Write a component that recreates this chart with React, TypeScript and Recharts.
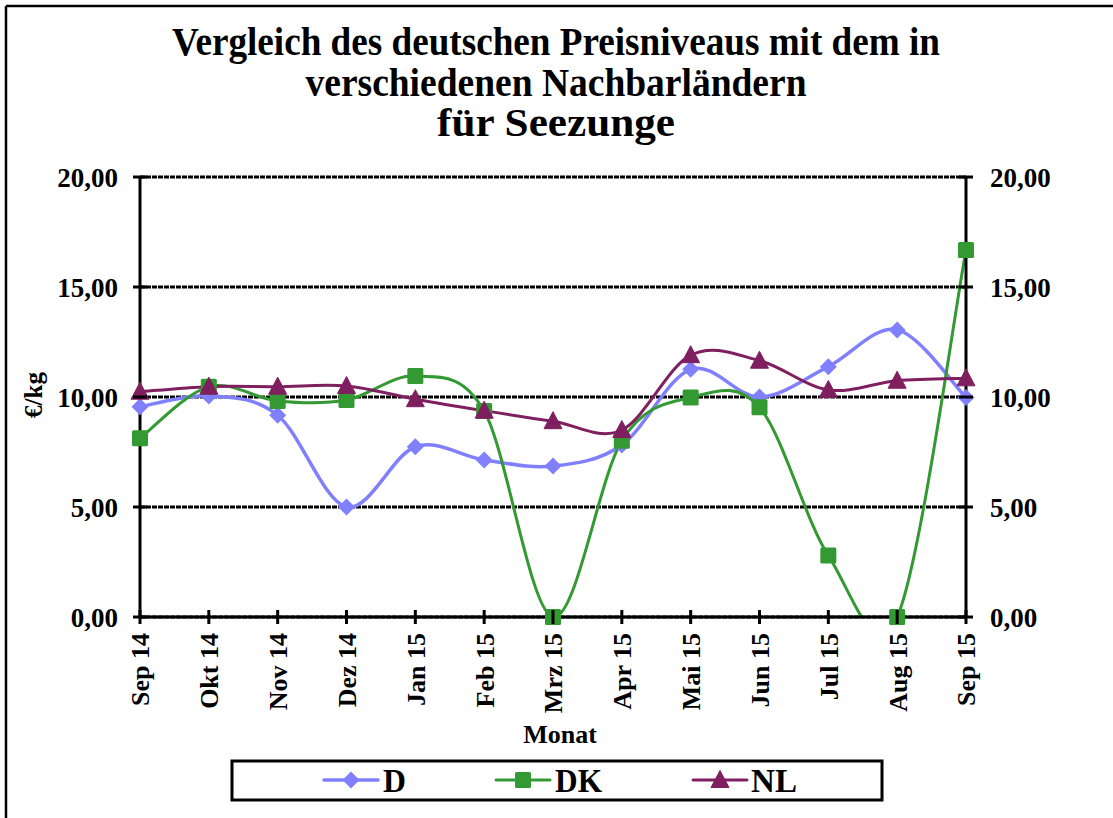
import React from 'react';
import { LineChart, Line, XAxis, YAxis, CartesianGrid } from 'recharts';

const months = ['Sep 14', 'Okt 14', 'Nov 14', 'Dez 14', 'Jan 15', 'Feb 15', 'Mrz 15', 'Apr 15', 'Mai 15', 'Jun 15', 'Jul 15', 'Aug 15', 'Sep 15'];
const seriesD = [9.56, 10.05, 9.17, 5.0, 7.74, 7.14, 6.86, 7.82, 11.26, 10.0, 11.38, 13.05, 9.98];
const seriesDK = [8.12, 10.47, 9.82, 9.86, 10.95, 9.36, 0, 8.01, 9.98, 9.53, 2.79, 0, 16.68];
const seriesNL = [10.24, 10.47, 10.47, 10.5, 9.9, 9.38, 8.9, 8.5, 11.9, 11.65, 10.32, 10.74, 10.85];
const yTicks = [0, 5, 10, 15, 20];
const titleLines = ['Vergleich des deutschen Preisniveaus mit dem in', 'verschiedenen Nachbarländern', 'für Seezunge'];

const series = [
  { key: 'D', name: 'D', color: '#8080FF', width: 3.5, shape: 'diamond' },
  { key: 'DK', name: 'DK', color: '#339933', width: 3, shape: 'square' },
  { key: 'NL', name: 'NL', color: '#7F1F5F', width: 3, shape: 'triangle' },
];

const data = months.map((m, i) => ({ month: m, D: seriesD[i], DK: seriesDK[i], NL: seriesNL[i] }));

// layout constants
const W = 1113;
const H = 818;
const LEFT_AXIS_W = 140;
const RIGHT_AXIS_W = 147;
const TOP = 177;
const X_AXIS_H = 201;
const PLOT_LEFT = LEFT_AXIS_W;
const PLOT_RIGHT = W - RIGHT_AXIS_W;
const PLOT_BOTTOM = H - X_AXIS_H;
const FONT = '"Liberation Serif", "Times New Roman", serif';
const TICK_HALF = 7;

// Excel-like smoothing (Catmull-Rom as cubic Bezier)
function smoothCurve(context: any) {
  let pts: number[][] = [];
  return {
    areaStart() {},
    areaEnd() {},
    lineStart() {
      pts = [];
    },
    lineEnd() {
      const n = pts.length;
      if (!n) return;
      context.moveTo(pts[0][0], pts[0][1]);
      for (let i = 0; i < n - 1; i++) {
        const p0 = pts[i - 1] || pts[i];
        const p1 = pts[i];
        const p2 = pts[i + 1];
        const p3 = pts[i + 2] || p2;
        context.bezierCurveTo(
          p1[0] + (p2[0] - p0[0]) / 6,
          p1[1] + (p2[1] - p0[1]) / 6,
          p2[0] - (p3[0] - p1[0]) / 6,
          p2[1] - (p3[1] - p1[1]) / 6,
          p2[0],
          p2[1]
        );
      }
    },
    point(x: number, y: number) {
      pts.push([+x, +y]);
    },
  };
}

function Marker({ shape, color, cx, cy }: { shape: string; color: string; cx: number; cy: number }) {
  if (cx == null || cy == null || isNaN(cx) || isNaN(cy)) return null;
  if (shape === 'diamond') {
    const r = 8.5;
    return <path d={`M${cx},${cy - r}L${cx + r},${cy}L${cx},${cy + r}L${cx - r},${cy}Z`} fill={color} />;
  }
  if (shape === 'square') {
    const s = 8;
    return <rect x={cx - s} y={cy - s} width={2 * s} height={2 * s} rx={1.5} fill={color} />;
  }
  const hw = 9;
  return <path d={`M${cx},${cy - 9.5}L${cx + hw},${cy + 7.5}L${cx - hw},${cy + 7.5}Z`} fill={color} strokeLinejoin="round" stroke={color} strokeWidth={1} />;
}

const fmt = (v: number) => v.toFixed(2).replace('.', ',');

const LeftTick = (props: any) => {
  const y = props.payload.coordinate;
  return (
    <g>
      <line x1={PLOT_LEFT - TICK_HALF} x2={PLOT_LEFT + TICK_HALF} y1={y} y2={y} stroke="#000" strokeWidth={3} />
      <text x={PLOT_LEFT - 22} y={y} dy="0.36em" textAnchor="end" fontFamily={FONT} fontWeight="bold" fontSize={27} fill="#000">
        {fmt(props.payload.value)}
      </text>
    </g>
  );
};

const RightTick = (props: any) => {
  const y = props.payload.coordinate;
  return (
    <g>
      <line x1={PLOT_RIGHT - TICK_HALF} x2={PLOT_RIGHT + TICK_HALF} y1={y} y2={y} stroke="#000" strokeWidth={3} />
      <text x={PLOT_RIGHT + 24} y={y} dy="0.36em" textAnchor="start" fontFamily={FONT} fontWeight="bold" fontSize={27} fill="#000">
        {fmt(props.payload.value)}
      </text>
    </g>
  );
};

const BottomTick = (props: any) => {
  const x = props.payload.coordinate;
  const ty = PLOT_BOTTOM + 16;
  return (
    <g>
      <line x1={x} x2={x} y1={PLOT_BOTTOM - TICK_HALF} y2={PLOT_BOTTOM + TICK_HALF} stroke="#000" strokeWidth={3} />
      <text
        x={x}
        y={ty}
        dy="0.36em"
        textAnchor="end"
        transform={`rotate(-90, ${x}, ${ty})`}
        fontFamily={FONT}
        fontWeight="bold"
        fontSize={26}
        fill="#000"
      >
        {props.payload.value}
      </text>
    </g>
  );
};

const legendItems = [
  { x1: 324, label: 383, lw: 23 },
  { x1: 496, label: 555, lw: 47 },
  { x1: 693, label: 751, lw: 46 },
];

export default function App() {
  return (
    <div style={{ position: 'absolute', left: 0, top: 0, width: W, height: H, background: '#fff', overflow: 'hidden' }}>
      <div style={{ position: 'absolute', left: 0, top: 0 }}>
        <LineChart width={W} height={H} data={data} margin={{ top: TOP, right: 0, bottom: 0, left: 0 }}>
          <CartesianGrid yAxisId="left" vertical={false} stroke="#000" strokeWidth={3.2} strokeDasharray="5 1" horizontalValues={yTicks} />
          <XAxis
            dataKey="month"
            height={X_AXIS_H}
            interval={0}
            axisLine={{ stroke: '#000', strokeWidth: 3 }}
            tickLine={false}
            tick={<BottomTick />}
          />
          <YAxis
            yAxisId="left"
            orientation="left"
            width={LEFT_AXIS_W}
            domain={[0, 20]}
            ticks={yTicks}
            allowDataOverflow
            axisLine={{ stroke: '#000', strokeWidth: 3 }}
            tickLine={false}
            tick={<LeftTick />}
          />
          <YAxis
            yAxisId="right"
            orientation="right"
            width={RIGHT_AXIS_W}
            domain={[0, 20]}
            ticks={yTicks}
            axisLine={{ stroke: '#000', strokeWidth: 3 }}
            tickLine={false}
            tick={<RightTick />}
          />
          {series.flatMap((s) => [
            <Line
              key={s.key + '-line'}
              yAxisId="left"
              dataKey={s.key}
              name={s.name}
              type={smoothCurve as any}
              stroke={s.color}
              strokeWidth={s.width}
              dot={false}
              activeDot={false}
              isAnimationActive={false}
            />,
            <Line
              key={s.key + '-marks'}
              yAxisId="right"
              dataKey={s.key}
              name={s.name + ' '}
              type="linear"
              stroke="none"
              strokeWidth={0}
              dot={(p: any) => <Marker key={p.index} shape={s.shape} color={s.color} cx={p.cx} cy={p.cy} />}
              activeDot={false}
              isAnimationActive={false}
              legendType="none"
            />,
          ])}
        </LineChart>
      </div>
      <svg width={W} height={H} style={{ position: 'absolute', left: 0, top: 0, pointerEvents: 'none' }}>
        <line x1={6} y1={6} x2={W} y2={6} stroke="#000" strokeWidth={2.5} />
        <line x1={6} y1={6} x2={6} y2={H} stroke="#000" strokeWidth={2.5} />
        {titleLines.map((t, i) => (
          <text
            key={i}
            x={556}
            y={55 + i * 40.5}
            textAnchor="middle"
            fontFamily={FONT}
            fontWeight="bold"
            fontSize={39}
            fill="#000"
            textLength={[768, 501, 238][i]}
            lengthAdjust="spacingAndGlyphs"
          >
            {t}
          </text>
        ))}
        <text x={560} y={743} textAnchor="middle" fontFamily={FONT} fontWeight="bold" fontSize={26} fill="#000">
          Monat
        </text>
        <text
          x={33}
          y={395}
          dy="0.36em"
          textAnchor="middle"
          transform="rotate(-90, 33, 395)"
          fontFamily={FONT}
          fontWeight="bold"
          fontSize={25}
          fill="#000"
        >
          €/kg
        </text>
        <rect x={232} y={761} width={650} height={39} fill="none" stroke="#000" strokeWidth={3} />
        {series.map((s, i) => {
          const it = legendItems[i];
          return (
            <g key={s.key}>
              <line x1={it.x1} x2={it.x1 + 54} y1={780} y2={780} stroke={s.color} strokeWidth={s.width} strokeLinecap="round" />
              <Marker shape={s.shape} color={s.color} cx={it.x1 + 27} cy={780} />
              <text
                x={it.label}
                y={792}
                fontFamily={FONT}
                fontWeight="bold"
                fontSize={33}
                fill="#000"
                textLength={it.lw}
                lengthAdjust="spacingAndGlyphs"
              >
                {s.name}
              </text>
            </g>
          );
        })}
      </svg>
    </div>
  );
}
